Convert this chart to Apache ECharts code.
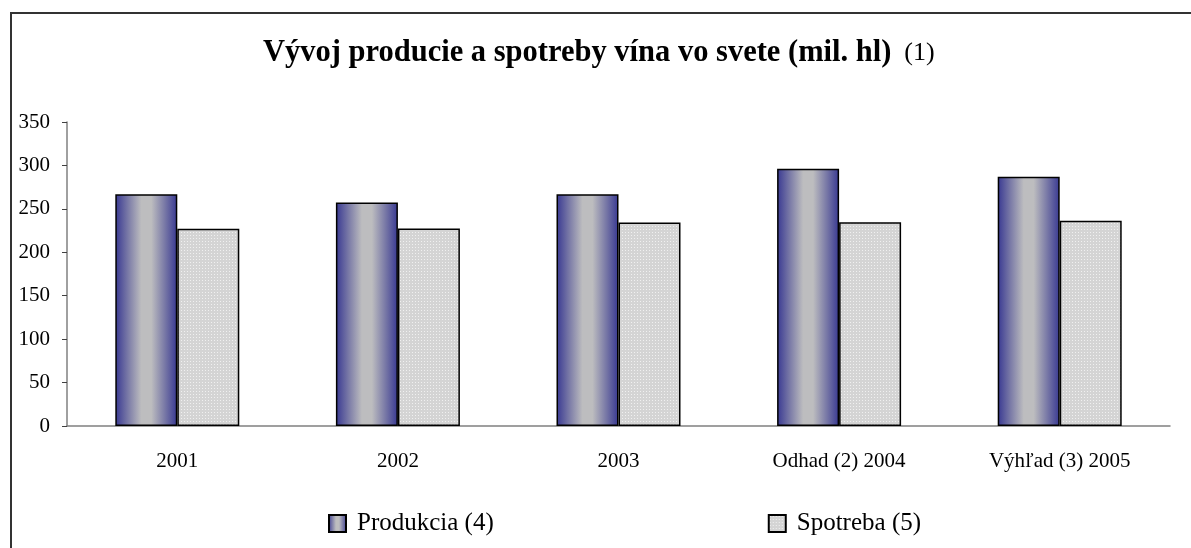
<!DOCTYPE html>
<html>
<head>
<meta charset="utf-8">
<script src="https://cdn.jsdelivr.net/npm/echarts@6/dist/echarts.min.js"></script>
<style>
  html, body { margin: 0; padding: 0; background: #fff; }
  #chart { width: 1191px; height: 548px; }
</style>
</head>
<body>
<div id="chart"></div>
<script>
const categories = ['2001', '2002', '2003', 'Odhad (2) 2004', 'Výhľad (3) 2005'];
const produkcia = [266.7, 257.4, 266.8, 296.2, 287.0];
const spotreba = [227.0, 227.5, 234.2, 234.5, 236.4];
const yMin = 0, yMax = 350, yStep = 50;

const serif = '"Liberation Serif", "DejaVu Serif", serif';

// dotted light gray fill like the excel pattern
const dots = document.createElement('canvas');
dots.width = 3; dots.height = 3;
const dctx = dots.getContext('2d');
dctx.fillStyle = '#d4d4d4';
dctx.fillRect(0, 0, 3, 3);
dctx.fillStyle = '#f0f0f0';
dctx.fillRect(1, 1, 1, 1);

const tube = new echarts.graphic.LinearGradient(0, 0, 1, 0, [
    { offset: 0, color: '#383892' },
    { offset: 0.2, color: '#7878a6' },
    { offset: 0.42, color: '#bdbdbf' },
    { offset: 0.58, color: '#bdbdbf' },
    { offset: 0.8, color: '#7878a6' },
    { offset: 1, color: '#383892' }
]);

const myChart = echarts.init(document.getElementById('chart'));
const option = {
    animation: false,
    backgroundColor: '#fff',
    title: {
        text: '{b|Vývoj producie a spotreby vína vo svete (mil. hl)}{n|  (1)}',
        left: 258,
        top: 33,
        textStyle: {
            rich: {
                b: { fontFamily: serif, fontWeight: 'bold', fontSize: 30.5, color: '#000' },
                n: { fontFamily: serif, fontWeight: 'normal', fontSize: 26, color: '#000' }
            }
        }
    },
    grid: {
        left: 67,
        right: 21,
        top: 122,
        bottom: 122
    },
    legend: {
        bottom: 7,
        left: 323,
        itemWidth: 17,
        itemHeight: 17,
        itemGap: 274,
        icon: 'rect',
        textStyle: { fontFamily: serif, fontSize: 25, color: '#000', padding: [0, 0, 0, 6] },
        data: ['Produkcia (4)', 'Spotreba (5)']
    },
    xAxis: {
        type: 'category',
        data: categories,
        axisLine: { show: true, lineStyle: { color: '#808080', width: 1.5 } },
        axisTick: { show: false },
        axisLabel: { fontFamily: serif, fontSize: 21, color: '#000', margin: 25 },
        splitLine: { show: false }
    },
    yAxis: {
        type: 'value',
        min: yMin,
        max: yMax,
        interval: yStep,
        axisLine: { show: true, lineStyle: { color: '#808080', width: 1.5 } },
        axisTick: { show: true, inside: false, length: 5, lineStyle: { color: '#404040' } },
        axisLabel: { fontFamily: serif, fontSize: 21, color: '#000', margin: 17 },
        splitLine: { show: false }
    },
    series: [
        {
            name: 'Produkcia (4)',
            type: 'bar',
            data: produkcia,
            barWidth: 62,
            barGap: '0%',
            itemStyle: { color: tube, borderColor: '#000', borderWidth: 1.5 }
        },
        {
            name: 'Spotreba (5)',
            type: 'bar',
            data: spotreba,
            barWidth: 62,
            barGap: '0%',
            itemStyle: { color: { image: dots, repeat: 'repeat' }, borderColor: '#000', borderWidth: 1.5 }
        }
    ],
    graphic: [{
        type: 'rect',
        silent: true,
        shape: { x: 11, y: 13, width: 1220, height: 600 },
        style: { fill: 'none', stroke: '#333', lineWidth: 2 }
    }]
};
myChart.setOption(option);
</script>
</body>
</html>
